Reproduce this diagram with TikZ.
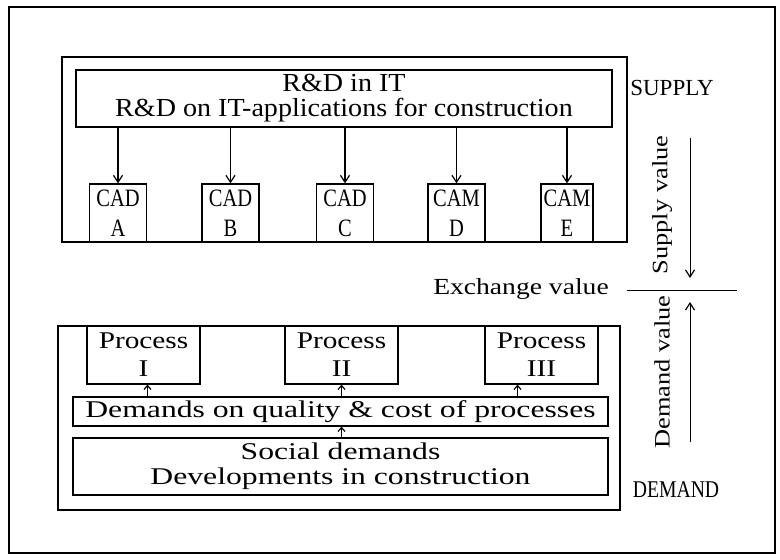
\documentclass[tikz,border=0pt]{standalone}
\usepackage{fontspec}
\setmainfont{Liberation Serif}
\newfontfamily\fnarrow[FakeStretch=0.82]{Liberation Serif}
\newfontfamily\fnorm{Liberation Serif}
\newfontfamily\fwideA[FakeStretch=1.08]{Liberation Serif}
\newfontfamily\fwideB[FakeStretch=1.2]{Liberation Serif}
\newfontfamily\fwideC[FakeStretch=1.22]{Liberation Serif}
\newfontfamily\fwideD[FakeStretch=1.32]{Liberation Serif}
\usetikzlibrary{arrows.meta}
\begin{document}
\begin{tikzpicture}[x=1pt,y=-1pt,
  line width=1.2pt,
  box/.style={draw, inner sep=0pt, align=center},
  tip/.style={-{Straight Barb[length=7pt,width=9pt,line width=1.2pt]}},
  smalltip/.style={-{Straight Barb[length=4pt,width=7pt,line width=1.2pt]}},
  rdtext/.style={font=\fwideA\fontsize{26}{25}\selectfont},
  cadtext/.style={font=\fnarrow\fontsize{25}{30}\selectfont},
  proctext/.style={font=\fwideC\fontsize{24}{28}\selectfont},
  lowtext/.style={font=\fwideD\fontsize{24}{25}\selectfont},
  sidetext/.style={font=\fwideB\fontsize{22}{24}\selectfont},
]
\useasboundingbox (0,0) rectangle (780,560);
\draw (9,7) rectangle (775,553);

% supply part
\node[box, minimum width=565pt, minimum height=185pt] (sup) at (344.5,149.5) {};
\node[box, minimum width=536pt, minimum height=57pt, rdtext] (rd) at (344,98.5)
  {R\&D in IT\\R\&D on IT-applications for construction};
\node[box, minimum width=57pt, minimum height=58pt, cadtext] (cA) at (118,213) {CAD\\A};
\node[box, minimum width=57pt, minimum height=58pt, cadtext] (cB) at (230.5,213) {CAD\\B};
\node[box, minimum width=57pt, minimum height=58pt, cadtext] (cC) at (345,213) {CAD\\C};
\node[box, minimum width=57pt, minimum height=58pt, cadtext] (cD) at (456.5,213) {CAM\\D};
\node[box, minimum width=52pt, minimum height=58pt, cadtext] (cE) at (567,213) {CAM\\E};
\foreach \n in {cA,cB,cC,cD,cE}
  \draw[tip] (rd.south -| \n.north) -- (\n.north);

% demand part
\node[box, minimum width=562pt, minimum height=184pt] (dem) at (339,418) {};
\node[box, minimum width=113pt, minimum height=58pt, proctext] (p1) at (143.5,355) {Process\\I};
\node[box, minimum width=113pt, minimum height=58pt, proctext] (p2) at (341.5,355) {Process\\II};
\node[box, minimum width=113pt, minimum height=58pt, proctext] (p3) at (541.5,355) {Process\\III};
\node[box, minimum width=535pt, minimum height=29pt, lowtext] (dq) at (340.5,411.5)
  {Demands on quality \& cost of processes};
\node[box, minimum width=535pt, minimum height=57pt, lowtext] (sd) at (340.5,466.5)
  {Social demands\\Developments in construction};
\draw[smalltip] ([xshift=4pt]dq.north -| p1.south) -- ([xshift=4pt]p1.south);
\draw[smalltip] (dq.north -| p2.south) -- (p2.south);
\draw[smalltip] ([xshift=-24pt]dq.north -| p3.south) -- ([xshift=-24pt]p3.south);
\draw[smalltip] (sd.north -| p2.south) -- (dq.south -| p2.south);

% right side
\node[font=\fnorm\fontsize{23}{24}\selectfont] (supply) at (672,88) {SUPPLY};
\node[sidetext, rotate=90] (sv) at (662,205) {Supply value};
\coordinate (svtop) at (690,138);
\coordinate (svbot) at (690,278);
\draw[tip, line width=0.8pt] (svtop) -- (svbot);
\node[font=\fwideB\fontsize{23}{25}\selectfont] (ev) at (521,289) {Exchange value};
\coordinate (evend) at (737,290);
\draw[line width=0.8pt] ([xshift=14pt]ev.east |- evend) -- (evend);
\node[sidetext, rotate=90] (dv) at (662,372) {Demand value};
\coordinate (dvbot) at (690,442);
\coordinate (dvtop) at (690,302);
\draw[tip, line width=0.8pt] (dvbot) -- (dvtop);
\node[font=\fnarrow\fontsize{24}{24}\selectfont] (demand) at (676,490) {DEMAND};
\end{tikzpicture}
\end{document}
